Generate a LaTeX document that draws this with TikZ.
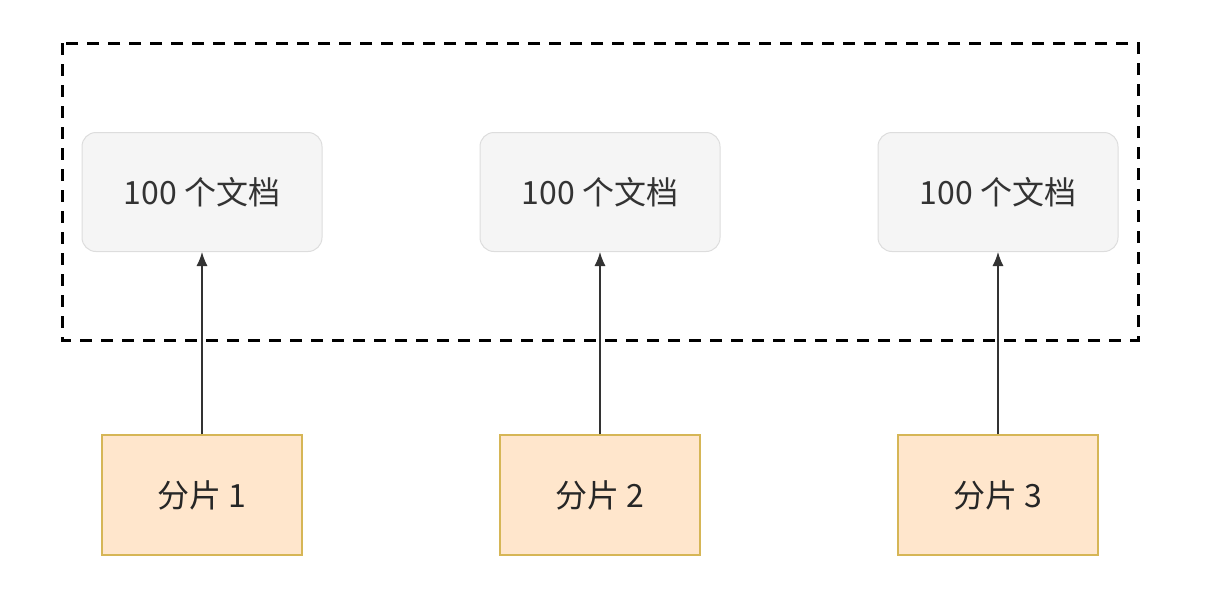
\documentclass[tikz,border=0pt]{standalone}
\usepackage{fontspec}
\setmainfont{Noto Sans CJK SC}
\usetikzlibrary{arrows.meta}
\definecolor{docfill}{HTML}{F5F5F5}
\definecolor{docline}{HTML}{DDDDDD}
\definecolor{shardfill}{HTML}{FFE6CC}
\definecolor{shardline}{HTML}{D6B656}
\definecolor{doctext}{HTML}{333333}

\begin{document}
\begin{tikzpicture}[x=1pt,y=-1pt,
  docbox/.style={draw=docline, fill=docfill, rounded corners=14pt, line width=1pt,
    minimum width=240pt, minimum height=119pt, text=doctext, font=\fontsize{32}{36}\selectfont},
  shardbox/.style={draw=shardline, fill=shardfill, line width=1.5pt,
    minimum width=200pt, minimum height=120pt, text=black!85, font=\fontsize{32}{36}\selectfont},
  link/.style={line width=1.2pt, black!80, -{Latex[length=14pt,width=11pt]}}]
\useasboundingbox (0,0) rectangle (1224,592);

% group of documents
\draw[line width=3pt, dash pattern=on 12pt off 9pt] (62,43) rectangle (1138,340);

\node[docbox] (doc1) at (202,192) {100 个文档};
\node[docbox] (doc2) at (600,192) {100 个文档};
\node[docbox] (doc3) at (998,192) {100 个文档};

\node[shardbox] (shard1) at (202,495) {分片 1};
\node[shardbox] (shard2) at (600,495) {分片 2};
\node[shardbox] (shard3) at (998,495) {分片 3};

\draw[link] (shard1) -- (doc1);
\draw[link] (shard2) -- (doc2);
\draw[link] (shard3) -- (doc3);
\end{tikzpicture}
\end{document}
